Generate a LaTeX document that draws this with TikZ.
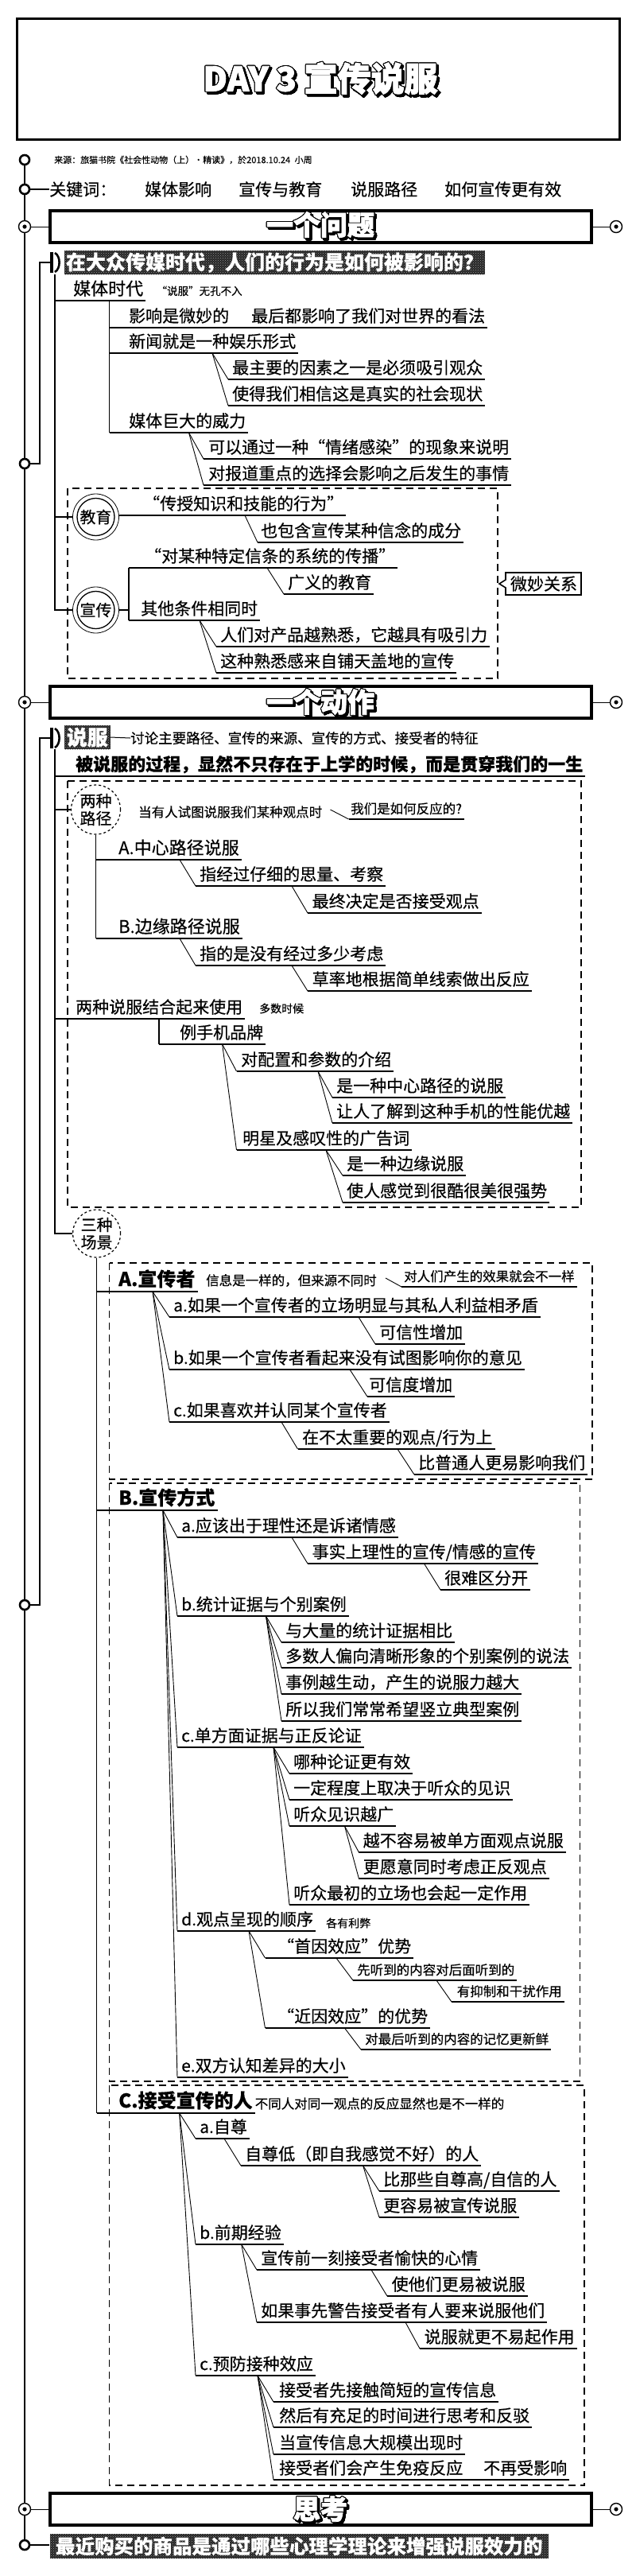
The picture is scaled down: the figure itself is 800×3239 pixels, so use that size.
\documentclass[tikz,border=0pt]{standalone}
\usepackage{fontspec}
\setmainfont{Noto Sans CJK SC}[FakeBold=0.35]
\newfontfamily\heavyfont{Noto Sans CJK SC}[FakeBold=2.2]
\usepackage[copies]{contour}
\contourlength{1.0pt}
\contournumber{24}
\usetikzlibrary{patterns}
\tikzset{
 txt/.style={inner sep=0pt, anchor=base west, font=\fontsize{21}{21}\selectfont},
 sm/.style={inner sep=0pt, anchor=west},
 s16/.style={font=\fontsize{16.5}{17}\selectfont},
 s17/.style={font=\fontsize{17.5}{18}\selectfont},
 s14/.style={font=\fontsize{14}{14}\selectfont},
 s13/.style={font=\fontsize{13.5}{14}\selectfont},
 big22/.style={font=\fontsize{22}{22}\selectfont},
 bold24/.style={font=\fontsize{24}{24}\selectfont\bfseries},
 ul/.style={line width=1.5pt},
 ulT/.style={line width=2.6pt},
 conn/.style={line width=0.9pt},
 br/.style={line width=1.4pt},
 dbox/.style={line width=1.5pt, dash pattern=on 9pt off 6pt},
 ring/.style={circle, draw, line width=2.6pt, minimum size=12pt, inner sep=0pt, fill=white},
 bull/.style={circle, draw, line width=1.4pt, minimum size=15pt, inner sep=0pt, fill=white},
 hdr/.style={draw, line width=3.6pt, minimum width=681pt, minimum height=40pt, inner sep=0pt},
 darkbar/.style={fill=black!85, postaction={pattern=crosshatch dots, pattern color=black!40}, inner sep=0pt, text=white, font=\fontsize{25}{25}\selectfont\bfseries},
 spine/.style={line width=2pt},
 thinl/.style={line width=1pt},
 ccirc/.style={circle, draw, inner sep=0pt, align=center, font=\fontsize{20}{22}\selectfont},
}
% item: [node opts]{name}{underline x}{text x}{underline y}{text}
\newcommand\itm[6][]{%
  \node[txt,#1] (#2) at (#4,#5-7) {#6};
  \coordinate (#2u) at (#3,#5);
  \draw[ul] (#2u) -- (#2u -| #2.east) -- ++(3,0);}
\newcommand\itmT[6][]{%
  \node[txt,#1] (#2) at (#4,#5-7) {#6};
  \coordinate (#2u) at (#3,#5);
  \draw[ulT] (#2u) -- (#2u -| #2.east) -- ++(3,0);}
\newcommand\dg[2]{\draw[conn] #1 -- (#2u);}
\newcommand\otxt[5]{%
  \node[inner sep=0pt, text=black, font=\fontsize{#4}{#4}\selectfont\heavyfont\bfseries] (#1s) at ([shift={(2.5,2.5)}]#2,#3) {\contour{black}{#5}};
  \node[inner sep=0pt, text=white, font=\fontsize{#4}{#4}\selectfont\heavyfont\bfseries] (#1) at (#2,#3) {\contour{black}{#5}};}
\newcommand\dbr[2]{%
  \fill (62.5,#2-13) rectangle (66.5,#2+13);
  \draw[line width=2.6pt] (69,#2-12) .. controls (76.5,#2-8) and (76.5,#2+8) .. (69,#2+12);
  \coordinate (#1) at (62.5,#2);}
\begin{document}
\begin{tikzpicture}[x=1pt,y=-1pt]
\useasboundingbox (0,0) rectangle (800,3239);
\fill[white] (0,0) rectangle (800,3239);

% ---------- title ----------
\node[draw, line width=3pt, minimum width=758pt, minimum height=152pt, inner sep=0pt] (titlebox) at (400.75,99) {};
\otxt{title}{403}{99}{42}{DAY 3 宣传说服}

% ---------- spine markers ----------
\node[ring] (src) at (31,201) {};
\node[sm, font=\fontsize{11}{11}\selectfont] (srct) at (68,201) {来源：旅猫书院《社会性动物（上）·精读》，於2018.10.24\enspace 小周};
\node[ring] (kw) at (31,238) {};
\node[txt, anchor=west] (kwt) at (62,238) {关键词：};
\draw[br] (kw) -- (kwt);
\node[txt, anchor=west] (kw1) at (182,238) {媒体影响};
\node[txt, anchor=west] (kw2) at (300,238) {宣传与教育};
\node[txt, anchor=west] (kw3) at (441,238) {说服路径};
\node[txt, anchor=west] (kw4) at (559,238) {如何宣传更有效};

% ---------- header 1 ----------
\node[hdr] (h1) at (403.25,285) {};
\otxt{h1t}{403}{283}{34}{一个问题}
\node[bull] (h1l) at (31,285) {};
\node[bull] (h1r) at (775,285) {};
\fill (h1l) circle[radius=2.6pt];
\fill (h1r) circle[radius=2.6pt];
\draw[thinl] (h1l) -- (h1.west);
\draw[thinl] (h1.east) -- (h1r);

% question bar
\node[darkbar, minimum width=529pt, minimum height=30pt] (q) at (345.5,330) {在大众传媒时代，人们的行为是如何被影响的？};
\dbr{qk}{330}
\node[ring] (cq) at (31,583) {};
\draw[br] (qk) -- ++(-12.5,0) |- (cq);
\coordinate (qt) at (69,345);

\itmT[big22]{m1}{69}{92}{378}{媒体时代}
\node[s13, inner sep=0pt, anchor=base west] (m1s) at ([xshift=16pt]m1.base east) {“说服”无孔不入};
\coordinate (m1b) at (137.5,378);
\itm{m11}{137.5}{162}{412}{影响是微妙的\hspace{28pt}最后都影响了我们对世界的看法}
\itm{m12}{137.5}{162}{444}{新闻就是一种娱乐形式}
\itm{m121}{287}{292}{477}{最主要的因素之一是必须吸引观众}
\itm{m122}{287}{292}{510}{使得我们相信这是真实的社会现状}
\itm{m13}{137.5}{162}{544}{媒体巨大的威力}
\itm{m131}{256}{262}{577}{可以通过一种“情绪感染”的现象来说明}
\itm{m132}{256}{262}{610}{对报道重点的选择会影响之后发生的事情}
\draw[br] (m1b) -- (m13u);
\dg{(267,444)}{m121}
\dg{(267,444)}{m122}
\dg{(237.5,544)}{m131}
\dg{(237.5,544)}{m132}

% education / propaganda
\draw[dbox] (85,614) rectangle (626,853);
\node[ccirc, line width=0.8pt, minimum size=58pt] (jy) at (120.5,650) {教育};
\draw[line width=1.3pt] (jy.center) circle[radius=23.5pt];
\node[ccirc, line width=0.8pt, minimum size=58pt] (xc) at (120.5,767) {宣传};
\draw[line width=1.3pt] (xc.center) circle[radius=23.5pt];
\draw[br] (qt) |- (xc);
\draw[br] (jy.west -| qt) -- (jy);

\itm{e1}{151}{180}{648}{“传授知识和技能的行为”}
\draw[ul] (jy) -- (e1u);
\itm{e11}{324}{328}{682}{也包含宣传某种信念的成分}
\dg{(308,648)}{e11}

\itm{p1}{162}{182}{714}{“对某种特定信条的系统的传播”}
\itm{p11}{357}{362}{747}{广义的教育}
\itm{p2}{162}{177}{780}{其他条件相同时}
\itm{p21}{272}{277}{813}{人们对产品越熟悉，它越具有吸引力}
\itm{p22}{272}{277}{846}{这种熟悉感来自铺天盖地的宣传}
\draw[br] (p1u) -- (p2u);
\draw[br] (xc) -- (xc -| p1u);
\dg{(336,714)}{p11}
\dg{(251,780)}{p21}
\dg{(251,780)}{p22}

\node[inner sep=0pt, font=\fontsize{21}{21}\selectfont] (wm) at (684,734) {微妙关系};
\draw[line width=1.6pt] (636,720) -- (731,720) -- (731,748) -- (636,748) -- (636,739) -- (628,734) -- (636,729) -- cycle;

% ---------- header 2 ----------
\node[hdr] (h2) at (403.25,883) {};
\otxt{h2t}{403}{883}{34}{一个动作}
\node[bull] (h2l) at (31,883) {};
\node[bull] (h2r) at (775,883) {};
\fill (h2l) circle[radius=2.6pt];
\fill (h2r) circle[radius=2.6pt];
\draw[thinl] (h2l) -- (h2.west);
\draw[thinl] (h2.east) -- (h2r);

\node[darkbar, font=\fontsize{26}{26}\selectfont\bfseries, minimum width=57.5pt, minimum height=30pt] (sf) at (109.75,927) {说服};
\dbr{sk}{928}
\node[sm, s17] (sft) at (164,928) {讨论主要路径、宣传的来源、宣传的方式、接受者的特征};
\draw[thinl] (sf.east) -- (sft.west);
\node[ring] (cs2) at (31,2018) {};
\draw[br] (sk) -- ++(-12.5,0) |- (cs2);
\coordinate (st) at (69,942);

\itmT[font=\fontsize{22}{22}\selectfont\bfseries]{s1}{69}{95}{976}{被说服的过程，显然不只存在于上学的时候，而是贯穿我们的一生}

\draw[dbox] (85,982) rectangle (731,1518);
\node[ccirc, dashed, line width=1.2pt, minimum size=62pt] (lz) at (120.5,1018) {两种\\路径};
\draw[br] (lz.west -| st) -- (lz);
\node[sm, s16] (w1) at (174,1021) {当有人试图说服我们某种观点时};
\itm[s16]{w2}{438.6}{441}{1030}{我们是如何反应的?}
\dg{(415.5,1018)}{w2}

\itm[big22]{r1}{120.5}{149}{1081}{A.中心路径说服}
\itm{r11}{246}{251}{1114}{指经过仔细的思量、考察}
\itm{r111}{387}{392.5}{1148}{最终决定是否接受观点}
\itm[big22]{r2}{120.5}{149}{1180}{B.边缘路径说服}
\itm{r21}{246}{251}{1214}{指的是没有经过多少考虑}
\itm{r211}{387}{392.5}{1246}{草率地根据简单线索做出反应}
\draw[br] (lz) -- (r2u);
\dg{(226,1081)}{r11}
\dg{(367,1114)}{r111}
\dg{(226,1180)}{r21}
\dg{(367,1214)}{r211}

\itm{t1}{69}{95}{1281}{两种说服结合起来使用}
\node[sm, s14] (t1s) at (326,1268) {多数时候};
\coordinate (t1b) at (200,1281);
\itm{t11}{200}{226}{1313}{例手机品牌}
\draw[br] (t1b) -- (t11u);
\itm{t111}{297.5}{303}{1347}{对配置和参数的介绍}
\itm{t1111}{418}{423}{1380}{是一种中心路径的说服}
\itm{t1112}{418}{423}{1412}{让人了解到这种手机的性能优越}
\itm{t112}{297.5}{305}{1446}{明星及感叹性的广告词}
\itm{t1121}{431}{436}{1478}{是一种边缘说服}
\itm{t1122}{431}{436}{1512}{使人感觉到很酷很美很强势}
\dg{(279.6,1313)}{t111}
\dg{(279.6,1313)}{t112}
\dg{(400,1347)}{t1111}
\dg{(400,1347)}{t1112}
\dg{(410,1446)}{t1121}
\dg{(410,1446)}{t1122}

\node[ccirc, dashed, line width=1.2pt, minimum size=60pt] (sc) at (121.6,1551) {三种\\场景};
\draw[br] (st) |- (sc);

% box A
\draw[dbox] (137.5,1588) rectangle (745,1860);
\itm[bold24]{A}{121.6}{149}{1624}{A.宣传者}
\node[sm, s16] (ia1) at (259,1610) {信息是一样的，但来源不同时};
\itm[s16]{ia2}{505}{508}{1618}{对人们产生的效果就会不一样}
\dg{(485,1607)}{ia2}
\itm{a1}{213}{218}{1656}{a.如果一个宣传者的立场明显与其私人利益相矛盾}
\itm{a11}{472}{477}{1690}{可信性增加}
\itm{a2}{213}{218}{1722}{b.如果一个宣传者看起来没有试图影响你的意见}
\itm{a21}{462}{464}{1756}{可信度增加}
\itm{a3}{213}{218}{1788}{c.如果喜欢并认同某个宣传者}
\itm{a31}{374.5}{380}{1822}{在不太重要的观点/行为上}
\itm{a311}{521}{526}{1854}{比普通人更易影响我们}
\dg{(192,1624)}{a1}
\dg{(192,1624)}{a2}
\dg{(192,1624)}{a3}
\dg{(451,1656)}{a11}
\dg{(440,1722)}{a21}
\dg{(354,1788)}{a31}
\dg{(500,1822)}{a311}

% box B
\draw[dbox] (137.5,1865) rectangle (729.5,2617);
\itm[bold24]{B}{121.6}{149}{1899}{B.宣传方式}
\itm{b1}{223}{228}{1933}{a.应该出于理性还是诉诸情感}
\itm{b11}{387}{392.5}{1966}{事实上理性的宣传/情感的宣传}
\itm{b111}{554}{559}{1999}{很难区分开}
\itm{b2}{223}{228}{2032}{b.统计证据与个别案例}
\itm{b21}{354}{359}{2065}{与大量的统计证据相比}
\itm{b22}{354}{359}{2097}{多数人偏向清晰形象的个别案例的说法}
\itm{b23}{354}{359}{2130}{事例越生动，产生的说服力越大}
\itm{b24}{354}{359}{2164}{所以我们常常希望竖立典型案例}
\itm{b3}{223}{228}{2197}{c.单方面证据与正反论证}
\itm{b31}{364}{369}{2230}{哪种论证更有效}
\itm{b32}{364}{369}{2263}{一定程度上取决于听众的见识}
\itm{b33}{364}{369}{2296}{听众见识越广}
\itm{b331}{451.4}{456.6}{2329}{越不容易被单方面观点说服}
\itm{b332}{451.4}{456.6}{2362}{更愿意同时考虑正反观点}
\itm{b34}{364}{369}{2395}{听众最初的立场也会起一定作用}
\itm{b4}{223}{228}{2428}{d.观点呈现的顺序}
\node[sm, s14] (b4s) at (410,2418) {各有利弊};
\itm{b41}{333.5}{349}{2462}{“首因效应”优势}
\itm[s16]{b411}{444}{449}{2490}{先听到的内容对后面听到的}
\itm[s16]{b4111}{568}{574.6}{2517}{有抑制和干扰作用}
\itm{b42}{333.5}{349}{2550}{“近因效应”的优势}
\itm[s16]{b421}{454}{459}{2577}{对最后听到的内容的记忆更新鲜}
\itm{b5}{223}{228}{2612}{e.双方认知差异的大小}
\dg{(205,1899)}{b1}
\dg{(205,1899)}{b2}
\dg{(205,1899)}{b3}
\dg{(205,1899)}{b4}
\dg{(205,1899)}{b5}
\dg{(367,1933)}{b11}
\dg{(533.5,1966)}{b111}
\dg{(334.5,2032)}{b21}
\dg{(334.5,2032)}{b22}
\dg{(334.5,2032)}{b23}
\dg{(334.5,2032)}{b24}
\dg{(344,2197)}{b31}
\dg{(344,2197)}{b32}
\dg{(344,2197)}{b33}
\dg{(344,2197)}{b34}
\dg{(433.5,2296)}{b331}
\dg{(433.5,2296)}{b332}
\dg{(313,2428)}{b41}
\dg{(313,2428)}{b42}
\dg{(423,2462)}{b411}
\dg{(549,2490)}{b4111}
\dg{(433.5,2550)}{b421}

% box C
\draw[dbox] (137.5,2622) rectangle (735,3125);
\itm[bold24]{C}{121.6}{149}{2657}{C.接受宣传的人}
\node[sm, s16] (cst) at (320.6,2645) {不同人对同一观点的反应显然也是不一样的};
\draw[br] (sc) -- (Cu);
\itm{c1}{246}{251}{2689}{a.自尊}
\itm{c11}{303}{308}{2723}{自尊低（即自我感觉不好）的人}
\itm{c111}{477}{482}{2755}{比那些自尊高/自信的人}
\itm{c112}{477}{482}{2788}{更容易被宣传说服}
\itm{c2}{246}{251}{2822}{b.前期经验}
\itm{c21}{323}{328}{2854}{宣传前一刻接受者愉快的心情}
\itm{c211}{487}{492.5}{2887}{使他们更易被说服}
\itm{c22}{323}{328}{2920}{如果事先警告接受者有人要来说服他们}
\itm{c221}{528}{533.5}{2953}{说服就更不易起作用}
\itm{c3}{246}{251}{2987}{c.预防接种效应}
\itm{c31}{344}{351}{3020}{接受者先接触简短的宣传信息}
\itm{c32}{344}{351}{3052}{然后有充足的时间进行思考和反驳}
\itm{c33}{344}{351}{3086}{当宣传信息大规模出现时}
\itm{c34}{344}{351}{3118}{接受者们会产生免疫反应\hspace{26pt}不再受影响}
\dg{(225.7,2657)}{c1}
\dg{(225.7,2657)}{c2}
\dg{(225.7,2657)}{c3}
\dg{(282,2689)}{c11}
\dg{(456.6,2723)}{c111}
\dg{(456.6,2723)}{c112}
\dg{(303.7,2822)}{c21}
\dg{(303.7,2822)}{c22}
\dg{(467,2854)}{c211}
\dg{(510,2920)}{c221}
\dg{(324,2987)}{c31}
\dg{(324,2987)}{c32}
\dg{(324,2987)}{c33}
\dg{(324,2987)}{c34}

% ---------- header 3 ----------
\node[hdr] (h3) at (403.25,3155) {};
\otxt{h3t}{403}{3155}{34}{思考}
\node[bull] (h3l) at (31,3155) {};
\node[bull] (h3r) at (775,3155) {};
\fill (h3l) circle[radius=2.6pt];
\fill (h3r) circle[radius=2.6pt];
\draw[thinl] (h3l) -- (h3.west);
\draw[thinl] (h3.east) -- (h3r);

\node[darkbar, font=\fontsize{24.5}{25}\selectfont\bfseries, minimum width=627.5pt, minimum height=31pt] (fbar) at (376.25,3201.5) {最近购买的商品是通过哪些心理学理论来增强说服效力的};
\node[ring] (fin) at (31,3200) {};
\draw[br] (fin) -- (fbar.west |- fin);

% spine
\draw[spine] (src) -- (kw) -- (h1l) -- (cq) -- (h2l) -- (cs2) -- (h3l) -- (fin);
\end{tikzpicture}
\end{document}
